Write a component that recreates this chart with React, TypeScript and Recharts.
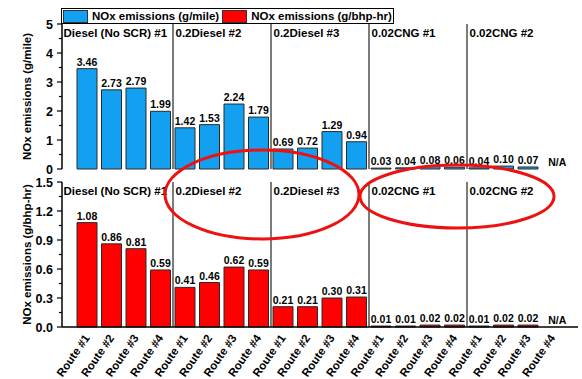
import React from 'react';
import { BarChart, Bar, XAxis, YAxis, ReferenceLine, ReferenceDot, LabelList } from 'recharts';

// Fleet groups and the four test routes driven by each vehicle
const groups = ['Diesel (No SCR) #1', '0.2Diesel #2', '0.2Diesel #3', '0.02CNG #1', '0.02CNG #2'];
const routes = ['Route #1', 'Route #2', 'Route #3', 'Route #4'];

// NOx emissions per route, in group order (null = not available)
const noxPerMile = [
  3.46, 2.73, 2.79, 1.99,
  1.42, 1.53, 2.24, 1.79,
  0.69, 0.72, 1.29, 0.94,
  0.03, 0.04, 0.08, 0.06,
  0.04, 0.10, 0.07, null,
];
const noxPerBhpHr = [
  1.08, 0.86, 0.81, 0.59,
  0.41, 0.46, 0.62, 0.59,
  0.21, 0.21, 0.30, 0.31,
  0.01, 0.01, 0.02, 0.02,
  0.01, 0.02, 0.02, null,
];

// Axis ticks (every other tick carries a label)
const mileTicks = [0, 0.5, 1, 1.5, 2, 2.5, 3, 3.5, 4, 4.5, 5];
const mileMajor = [0, 1, 2, 3, 4, 5];
const bhpTicks = [0, 0.15, 0.3, 0.45, 0.6, 0.75, 0.9, 1.05, 1.2, 1.35, 1.5];
const bhpMajor = [0, 0.3, 0.6, 0.9, 1.2, 1.5];

const seriesMeta = [
  { name: 'NOx emissions (g/mile)', color: '#14a0f0' },
  { name: 'NOx emissions (g/bhp-hr)', color: '#ff0000' },
];

const data = groups.flatMap((g, gi) =>
  routes.map((r, ri) => ({
    id: `${g}|${r}`,
    route: r,
    mile: noxPerMile[gi * 4 + ri],
    bhp: noxPerBhpHr[gi * 4 + ri],
  }))
);
const routeOf: Record<string, string> = Object.fromEntries(data.map((d) => [d.id, d.route]));
// first category of each group, where the group divider sits
const groupStarts = groups.map((_, i) => data[i * routes.length].id);

const FONT = '"Liberation Sans", Arial, Helvetica, sans-serif';
const W = 582;
const Y_AXIS_W = 62;
const PAD = { left: 13, right: 13 };

const YTick = (props: any) => {
  const { x, y, payload, major, digits } = props;
  const isMajor = major.includes(payload.value);
  return (
    <g>
      <line x1={x - (isMajor ? 5 : 3)} x2={x} y1={y} y2={y} stroke="#000" strokeWidth={1.2} />
      {isMajor && (
        <text x={x - 9} y={y} dy="0.36em" textAnchor="end" fontFamily={FONT} fontWeight="bold" fontSize={12.5} fill="#000">
          {Number(payload.value).toFixed(digits)}
        </text>
      )}
    </g>
  );
};

const RouteTick = (props: any) => {
  const { x, y, payload } = props;
  return (
    <text
      transform={`translate(${x + 3},${y + 11}) rotate(-55)`}
      textAnchor="end"
      fontFamily={FONT}
      fontWeight="bold"
      fontSize={11.5}
      fill="#000"
    >
      {routeOf[payload.value]}
    </text>
  );
};

const ValueLabel = (props: any) => {
  const { x, y, width, value } = props;
  if (value == null || x == null || y == null) return null;
  return (
    <text
      x={x + width / 2}
      y={y - 3}
      textAnchor="middle"
      fontFamily={FONT}
      fontWeight="bold"
      fontSize={10.5}
      fill="#000"
    >
      {Number(value).toFixed(2)}
    </text>
  );
};

const NALabel = (props: any) => {
  const { viewBox } = props;
  return (
    <text
      x={viewBox.x + 4.5}
      y={viewBox.y - 3}
      textAnchor="middle"
      fontFamily={FONT}
      fontWeight="bold"
      fontSize={10.5}
      fill="#000"
    >
      N/A
    </text>
  );
};

const GroupLabel = (props: any) => {
  const { viewBox, text, first } = props;
  return (
    <text
      x={viewBox.x + (first ? -11.5 : 2.5)}
      y={viewBox.y + 12.5}
      fontFamily={FONT}
      fontWeight="bold"
      fontSize={11.5}
      fill="#000"
    >
      {text}
    </text>
  );
};

const AxisTitle = (props: any) => {
  const { viewBox, text } = props;
  const cx = 27;
  const cy = viewBox.y + viewBox.height / 2;
  return (
    <text
      transform={`translate(${cx},${cy}) rotate(-90)`}
      textAnchor="middle"
      dominantBaseline="central"
      fontFamily={FONT}
      fontWeight="bold"
      fontSize={11.5}
      fill="#000"
    >
      {text}
    </text>
  );
};

const Panel = (props: {
  dataKey: 'mile' | 'bhp';
  color: string;
  title: string;
  domain: [number, number];
  ticks: number[];
  major: number[];
  height: number;
  top: number;
  bottom: number;
  showRoutes: boolean;
}) => {
  const { dataKey, color, title, domain, ticks, major, height, top, bottom, showRoutes } = props;
  const missing = data.filter((d) => d[dataKey] == null);
  return (
    <BarChart
      width={W}
      height={height}
      data={data}
      margin={{ top, right: 4, bottom, left: 0 }}
      barSize={20}
    >
      <XAxis
        dataKey="id"
        padding={PAD}
        interval={0}
        height={showRoutes ? 52 : 0}
        tickLine={false}
        tickSize={0}
        tickMargin={0}
        axisLine={{ stroke: '#000', strokeWidth: 1.5 }}
        tick={showRoutes ? <RouteTick /> : false}
      />
      <XAxis
        xAxisId="top"
        dataKey="id"
        orientation="top"
        height={0}
        tick={false}
        tickLine={false}
        axisLine={{ stroke: '#000', strokeWidth: 1.3 }}
      />
      <YAxis
        domain={domain}
        ticks={ticks}
        interval={0}
        width={Y_AXIS_W}
        tickLine={false}
        tickSize={0}
        tickMargin={0}
        axisLine={{ stroke: '#000', strokeWidth: 1.5 }}
        tick={<YTick major={major} digits={dataKey === 'mile' ? 0 : 1} />}
        label={<AxisTitle text={title} />}
      />
      <YAxis
        yAxisId="right"
        orientation="right"
        domain={domain}
        width={0}
        tick={false}
        tickLine={false}
        axisLine={{ stroke: '#000', strokeWidth: 1.3 }}
      />
      {groupStarts.map((id, i) => (
        <ReferenceLine
          key={id}
          x={id}
          position="start"
          stroke={i === 0 ? 'none' : '#444'}
          strokeWidth={1.4}
          label={<GroupLabel text={groups[i]} first={i === 0} />}
        />
      ))}
      <Bar dataKey={dataKey} fill={color} stroke="#2a2a2a" strokeWidth={1} isAnimationActive={false}>
        <LabelList dataKey={dataKey} content={<ValueLabel />} />
      </Bar>
      {missing.map((d) => (
        <ReferenceDot key={d.id} x={d.id} y={0} r={0} stroke="none" fill="none" label={<NALabel />} />
      ))}
    </BarChart>
  );
};

const Legend = () => (
  <div
    style={{
      position: 'absolute',
      left: 61,
      top: 8,
      height: 14,
      border: '1px solid #000',
      display: 'flex',
      alignItems: 'center',
      paddingLeft: 1,
      paddingRight: 1,
      background: '#fff',
      fontFamily: FONT,
      fontWeight: 'bold',
      fontSize: 11.5,
      lineHeight: '14px',
      whiteSpace: 'nowrap',
      zIndex: 2,
    }}
  >
    {seriesMeta.map((s, i) => (
      <div key={s.name} style={{ display: 'flex', alignItems: 'center', marginLeft: i === 0 ? 0 : 3 }}>
        <div style={{ width: 23, height: 11, background: s.color, border: '1px solid #333' }} />
        <span style={{ marginLeft: 4 }}>{s.name}</span>
      </div>
    ))}
  </div>
);

export default function App() {
  return (
    <div style={{ position: 'absolute', left: 0, top: 0, width: W, height: 379, background: '#fff' }}>
      <Legend />
      <div style={{ position: 'absolute', left: 0, top: 0 }}>
        <Panel
          dataKey="mile"
          color={seriesMeta[0].color}
          title="NOx emissions (g/mile)"
          domain={[0, 5]}
          ticks={mileTicks}
          major={mileMajor}
          height={180}
          top={24}
          bottom={11}
          showRoutes={false}
        />
      </div>
      <div style={{ position: 'absolute', left: 0, top: 172 }}>
        <Panel
          dataKey="bhp"
          color={seriesMeta[1].color}
          title="NOx emissions (g/bhp-hr)"
          domain={[0, 1.5]}
          ticks={bhpTicks}
          major={bhpMajor}
          height={207}
          top={10}
          bottom={0}
          showRoutes={true}
        />
      </div>
      <svg
        width={W}
        height={379}
        style={{ position: 'absolute', left: 0, top: 0, pointerEvents: 'none' }}
      >
        <ellipse cx={262} cy={194.5} rx={97} ry={44.5} fill="none" stroke="#ee1111" strokeWidth={3} />
        <ellipse cx={457} cy={196.5} rx={97} ry={31.5} fill="none" stroke="#ee1111" strokeWidth={3} />
      </svg>
    </div>
  );
}
